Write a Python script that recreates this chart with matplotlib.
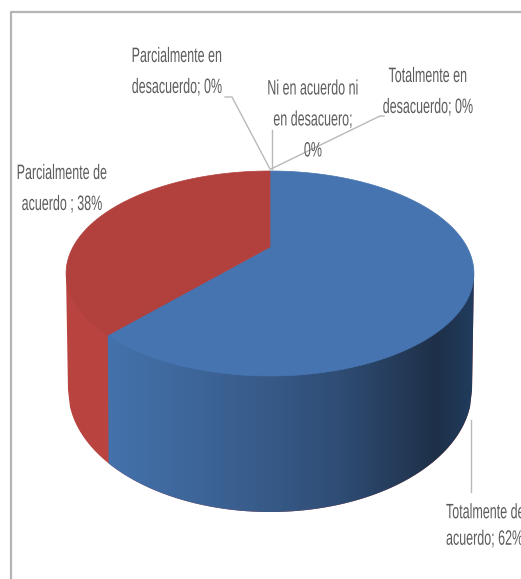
import numpy as np
import matplotlib
matplotlib.use("Agg")
import matplotlib.pyplot as plt
from matplotlib.colors import LinearSegmentedColormap
from matplotlib.patches import Polygon
from matplotlib.patheffects import AbstractPathEffect
from matplotlib.transforms import Affine2D

categorias = ["Totalmente de acuerdo", "Parcialmente de acuerdo",
              "Ni en acuerdo ni en desacuero", "Parcialmente en desacuerdo",
              "Totalmente en desacuerdo"]
valores = [61.6, 38.4, 0, 0, 0]

etiquetas = ["Totalmente de\nacuerdo; 62%", "Parcialmente de\nacuerdo ; 38%",
             "Ni en acuerdo ni\nen desacuero;\n0%", "Parcialmente en\ndesacuerdo; 0%",
             "Totalmente en\ndesacuerdo; 0%"]
etiq_x = [446, 62, 313, 177, 428]
etiq_y = [526, 189, 120, 72, 92]
etiq_ha = ["left", "center", "center", "center", "center"]
etiq_esp = [1.5, 1.8, 1.8, 1.8, 1.8]

cx = 270
k = 0.2585
def tapa(theta):
    # circulo en perspectiva, theta desde arriba en sentido horario
    u = np.sin(theta)
    v = np.cos(theta)
    w = 1 + k * v
    return cx + 197 * u / w, (247 - 31.8 * v) / w

def fondo(x):
    return 390 + 122 * np.sqrt(np.clip(1 - ((x - cx) / 202.0) ** 2, 0, 1))

class Estrecho(AbstractPathEffect):
    # la letra del original esta comprimida en horizontal
    def __init__(self, x0, sx):
        super().__init__()
        self.x0 = x0
        self.sx = sx
    def draw_path(self, renderer, gc, tpath, affine, rgbFace=None):
        t = affine + Affine2D().translate(-self.x0, 0).scale(self.sx, 1).translate(self.x0, 0)
        renderer.draw_path(gc, tpath, t, rgbFace)

fig = plt.figure(figsize=(5.21, 5.79), dpi=100)
ax = fig.add_axes([0, 0, 1, 1])

# pared lateral
xs = np.linspace(68, 472, 200)
pared = list(zip(xs, fondo(xs))) + [(474, 273), (66, 273)]
ax.add_patch(Polygon(pared, closed=True, fc="#b8433f", ec="none", zorder=1))

corte = 2 * np.pi * valores[0] / sum(valores)
x_v, y_v = tapa(corte)
xs2 = xs[xs >= x_v]
pared_azul = Polygon(list(zip(xs2, fondo(xs2))) + [(474, 273), (x_v, 273)],
                     closed=True, fc="none", ec="none")
ax.add_patch(pared_azul)
cmap = LinearSegmentedColormap.from_list("pared", [(0, "#4472ac"), (0.36, "#3a5f8f"),
                                                   (0.63, "#2f4d75"), (0.9, "#1e3048"),
                                                   (1, "#213c5e")])
im = ax.imshow(np.linspace(0, 1, 256).reshape(1, -1), cmap=cmap, aspect="auto",
               extent=(x_v, 474, 520, 270), zorder=2)
im.set_clip_path(pared_azul)

# tapa
colores = ["#4674b0", "#b2413e"]
ini = 0
for val, col in zip(valores, colores):
    fin = ini + 2 * np.pi * val / sum(valores)
    t = np.linspace(ini, fin, 200)
    px, py = tapa(t)
    pts = [(cx, 247)] + list(zip(px, py))
    ax.add_patch(Polygon(pts, closed=True, fc=col, ec=col, lw=0.5, zorder=3))
    ini = fin

# lineas guia
gris = "#b9b9b9"
ax.plot([225, 232, 270], [97, 97, 169], color=gris, lw=1, zorder=4)
ax.plot([272, 272], [130, 169], color=gris, lw=1, zorder=4)
ax.plot([271, 380, 384], [169, 116, 116], color=gris, lw=1, zorder=4)
ax.plot([471, 471], [420, 492], color=gris, lw=1, zorder=4)

ax.set_xlim(0, 521)
ax.set_ylim(579, 0)
ax.axis("off")

for txt, x, y, ha, esp in zip(etiquetas, etiq_x, etiq_y, etiq_ha, etiq_esp):
    ax.text(x, y, txt, ha=ha, va="center", ma="center" if ha == "center" else "left",
            family="Liberation Sans", fontsize=15, color="#5c5c5c", linespacing=esp,
            zorder=5, clip_on=True,
            path_effects=[Estrecho(x, 0.6)])

# marco
ax.plot([11, 11, 521], [579, 12, 12], color="#b5b5b5", lw=1.6, zorder=0)

fig.savefig("out.png", dpi=100, facecolor="white")
